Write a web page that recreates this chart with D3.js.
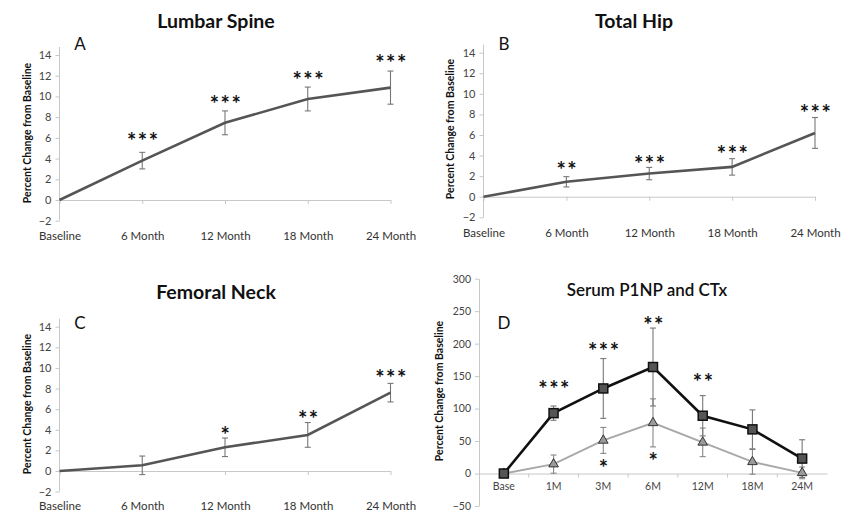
<!DOCTYPE html>
<html lang="en">
<head>
  <meta charset="UTF-8">
  <title>Bone density and markers</title>
  <script src="https://d3js.org/d3.v7.min.js"></script>
  <style>
    body { margin: 0; background: #fff; }
    text { font-family: Lato, "Open Sans", sans-serif; }
  </style>
</head>
<body>
  <svg id="chart"></svg>
  <script>
    // ---- data ----
    const monthCats = ["Baseline", "6 Month", "12 Month", "18 Month", "24 Month"];
    const bmdTicks = [-2, 0, 2, 4, 6, 8, 10, 12, 14];

    const spineMean = [0, 3.8, 7.45, 9.75, 10.85];
    const spineErr = [0, 0.8, 1.15, 1.15, 1.6];
    const spineStars = ["", "***", "***", "***", "***"];
    const spineStarY = [null, 6.1, 9.7, 12.0, 13.7];

    const hipMean = [0, 1.45, 2.25, 2.9, 6.2];
    const hipErr = [0, 0.5, 0.6, 0.8, 1.5];
    const hipStars = ["", "**", "***", "***", "***"];
    const hipStarY = [null, 3.0, 3.65, 4.55, 8.55];

    const neckMean = [0, 0.55, 2.3, 3.5, 7.6];
    const neckErr = [0, 0.9, 0.9, 1.2, 0.9];
    const neckStars = ["", "", "*", "**", "***"];
    const neckStarY = [null, null, 3.9, 5.5, 9.5];

    const markerCats = ["Base", "1M", "3M", "6M", "12M", "18M", "24M"];
    const markerTicks = [-50, 0, 50, 100, 150, 200, 250, 300];
    const p1npMean = [0, 93, 131, 164, 89, 68, 23];
    const p1npErr = [0, 11, 46, 60, 31, 30, 29];
    const p1npStars = ["", "***", "***", "**", "**", "", ""];
    const p1npStarY = [null, 137, 196, 235, 148, null, null];
    const ctxMean = [0, 14.5, 51, 78, 48, 18, 1];
    const ctxErr = [0, 14, 20, 37, 22, 19, 9];
    const ctxStars = ["", "", "*", "*", "", "", ""];
    const ctxStarY = [null, null, 16, 26, null, null, null];

    const width = 848, height = 513;
    const svg = d3.select("#chart").attr("width", width).attr("height", height);

    function stars(g, cats, x, y, labels, levels) {
      g.selectAll(null)
        .data(cats.map((c, i) => ({ c, s: labels[i], v: levels[i] })).filter(d => d.s))
        .enter()
        .append("text")
        .attr("x", d => x(d.c) + 1)
        .attr("y", d => y(d.v) + 12.5)
        .attr("text-anchor", "middle")
        .attr("font-family", "Liberation Sans, Arial, sans-serif")
        .attr("font-weight", "bold")
        .attr("font-size", 22)
        .attr("letter-spacing", 1.5)
        .attr("fill", "#111")
        .text(d => d.s);
    }

    function errorBars(g, cats, x, y, mean, err, color, cap) {
      const rows = cats.map((c, i) => ({ c, m: mean[i], e: err[i] })).filter(d => d.e > 0);
      const eb = g.append("g").attr("stroke", color).attr("stroke-width", 1.1).attr("fill", "none");
      eb.selectAll(null).data(rows).enter().append("line")
        .attr("x1", d => x(d.c)).attr("x2", d => x(d.c))
        .attr("y1", d => y(d.m - d.e)).attr("y2", d => y(d.m + d.e));
      [1, -1].forEach(sign => {
        eb.selectAll(null).data(rows).enter().append("line")
          .attr("x1", d => x(d.c) - cap).attr("x2", d => x(d.c) + cap)
          .attr("y1", d => y(d.m + sign * d.e)).attr("y2", d => y(d.m + sign * d.e));
      });
    }

    function frameText(p) {
      svg.append("text")
        .attr("x", p.titleX).attr("y", p.titleY)
        .attr("text-anchor", "middle").attr("dominant-baseline", "central")
        .attr("font-weight", p.titleWeight).attr("font-size", p.titleSize)
        .attr("fill", "#111")
        .text(p.title);
      svg.append("text")
        .attr("x", p.letterX).attr("y", p.letterY)
        .attr("text-anchor", "middle").attr("dominant-baseline", "central")
        .attr("font-family", "Liberation Sans, Arial, sans-serif")
        .attr("font-size", 17).attr("fill", "#111")
        .text(p.letter);
      svg.append("text")
        .attr("transform", `translate(${p.yTitleX},${p.yTitleY}) rotate(-90)`)
        .attr("text-anchor", "middle").attr("dominant-baseline", "central")
        .attr("font-weight", "bold").attr("font-size", 10.5)
        .attr("fill", "#111")
        .text("Percent Change from Baseline");
    }

    function styleAxis(g) {
      g.select(".domain").attr("stroke", "#c8c8c8");
      g.selectAll(".tick line").attr("stroke", "#c8c8c8");
      g.selectAll(".tick text").attr("fill", "#444").attr("font-size", 11);
    }

    // ---- panels A, B, C: bone density ----
    function drawBmd(p) {
      const x = d3.scalePoint().domain(monthCats).range([p.x0, p.x1]);
      const y = d3.scaleLinear().domain([-2, 14]).range([p.yMin, p.yMax]);
      const topPx = y(14) - 8;

      const yAxis = svg.append("g")
        .attr("transform", `translate(${p.x0},0)`)
        .call(d3.axisLeft(y).tickValues(bmdTicks).tickSize(4).tickSizeOuter(0).tickPadding(4));
      yAxis.select(".domain").attr("d", `M0,${topPx}V${y(-2)}`);
      styleAxis(yAxis);

      const zeroAxis = svg.append("g")
        .attr("transform", `translate(0,${y(0)})`)
        .call(d3.axisBottom(x).tickSize(4).tickSizeOuter(0).tickFormat(""));
      styleAxis(zeroAxis);

      const labels = svg.append("g")
        .attr("transform", `translate(0,${p.labelY})`)
        .call(d3.axisBottom(x).tickSize(0).tickPadding(0));
      labels.select(".domain").remove();
      labels.selectAll(".tick text").attr("dy", "0.35em").attr("fill", "#333").attr("font-size", 11.5);

      const g = svg.append("g");
      errorBars(g, monthCats, x, y, p.mean, p.err, "#777", 3);
      g.append("path")
        .datum(p.mean)
        .attr("fill", "none")
        .attr("stroke", "#555")
        .attr("stroke-width", 2.6)
        .attr("d", d3.line().x((d, i) => x(monthCats[i])).y(d => y(d)));
      stars(g, monthCats, x, y, p.stars, p.starY);
      frameText(p);
    }

    drawBmd({
      mean: spineMean, err: spineErr, stars: spineStars, starY: spineStarY,
      x0: 59.5, x1: 390.5, yMin: 220.7, yMax: 55, labelY: 236,
      title: "Lumbar Spine", titleX: 216, titleY: 20, titleWeight: "bold", titleSize: 19.5,
      letter: "A", letterX: 80, letterY: 43, yTitleX: 27, yTitleY: 133
    });
    drawBmd({
      mean: hipMean, err: hipErr, stars: hipStars, starY: hipStarY,
      x0: 483.5, x1: 815, yMin: 217.3, yMax: 52.7, labelY: 232.5,
      title: "Total Hip", titleX: 634, titleY: 20, titleWeight: "bold", titleSize: 19.5,
      letter: "B", letterX: 504, letterY: 43, yTitleX: 450, yTitleY: 129
    });
    drawBmd({
      mean: neckMean, err: neckErr, stars: neckStars, starY: neckStarY,
      x0: 59.5, x1: 390.5, yMin: 491.6, yMax: 326.7, labelY: 506,
      title: "Femoral Neck", titleX: 216, titleY: 291, titleWeight: "bold", titleSize: 19.5,
      letter: "C", letterX: 80, letterY: 322.5, yTitleX: 27, yTitleY: 404
    });

    // ---- panel D: serum markers ----
    (function drawMarkers() {
      const x = d3.scaleBand().domain(markerCats).range([479, 827]);
      const cx = c => x(c) + x.bandwidth() / 2;
      const y = d3.scaleLinear().domain([-50, 300]).range([506, 278.7]);

      const yAxis = svg.append("g")
        .attr("transform", "translate(479,0)")
        .call(d3.axisLeft(y).tickValues(markerTicks).tickSize(4).tickSizeOuter(0).tickPadding(4));
      styleAxis(yAxis);
      yAxis.selectAll(".tick text").attr("font-size", 10.5);

      const xAxis = svg.append("g")
        .attr("transform", `translate(0,${y(0)})`)
        .call(d3.axisBottom(x).tickSize(0).tickPadding(9));
      styleAxis(xAxis);
      xAxis.selectAll(".tick text").attr("fill", "#444").attr("font-size", 10.5);
      xAxis.selectAll(null)
        .data(markerCats.slice(1))
        .enter().append("line")
        .attr("x1", d => x(d)).attr("x2", d => x(d))
        .attr("y1", 0).attr("y2", 4)
        .attr("stroke", "#c8c8c8");

      const g = svg.append("g");
      errorBars(g, markerCats, cx, y, ctxMean, ctxErr, "#888", 3);
      errorBars(g, markerCats, cx, y, p1npMean, p1npErr, "#777", 3);

      const line = d3.line().x((d, i) => cx(markerCats[i])).y(d => y(d));
      g.append("path").datum(ctxMean)
        .attr("fill", "none").attr("stroke", "#a8a8a8").attr("stroke-width", 2).attr("d", line);
      g.append("path").datum(p1npMean)
        .attr("fill", "none").attr("stroke", "#111").attr("stroke-width", 2.6).attr("d", line);

      const tri = d3.symbol().type(d3.symbolTriangle).size(40);
      g.selectAll(null).data(ctxMean).enter().append("path")
        .attr("d", tri)
        .attr("transform", (d, i) => `translate(${cx(markerCats[i])},${y(d)})`)
        .attr("fill", "#9a9a9a").attr("stroke", "#333").attr("stroke-width", 1);
      g.selectAll(null).data(p1npMean).enter().append("rect")
        .attr("x", (d, i) => cx(markerCats[i]) - 4.5)
        .attr("y", d => y(d) - 4.5)
        .attr("width", 9).attr("height", 9)
        .attr("fill", "#555").attr("stroke", "#111").attr("stroke-width", 1.5);

      stars(g, markerCats, cx, y, p1npStars, p1npStarY);
      stars(g, markerCats, cx, y, ctxStars, ctxStarY);

      frameText({
        title: "Serum P1NP and CTx", titleX: 647, titleY: 289.5, titleWeight: 600, titleSize: 17,
        letter: "D", letterX: 504, letterY: 322.5, yTitleX: 439, yTitleY: 391
      });
    })();
  </script>
</body>
</html>
